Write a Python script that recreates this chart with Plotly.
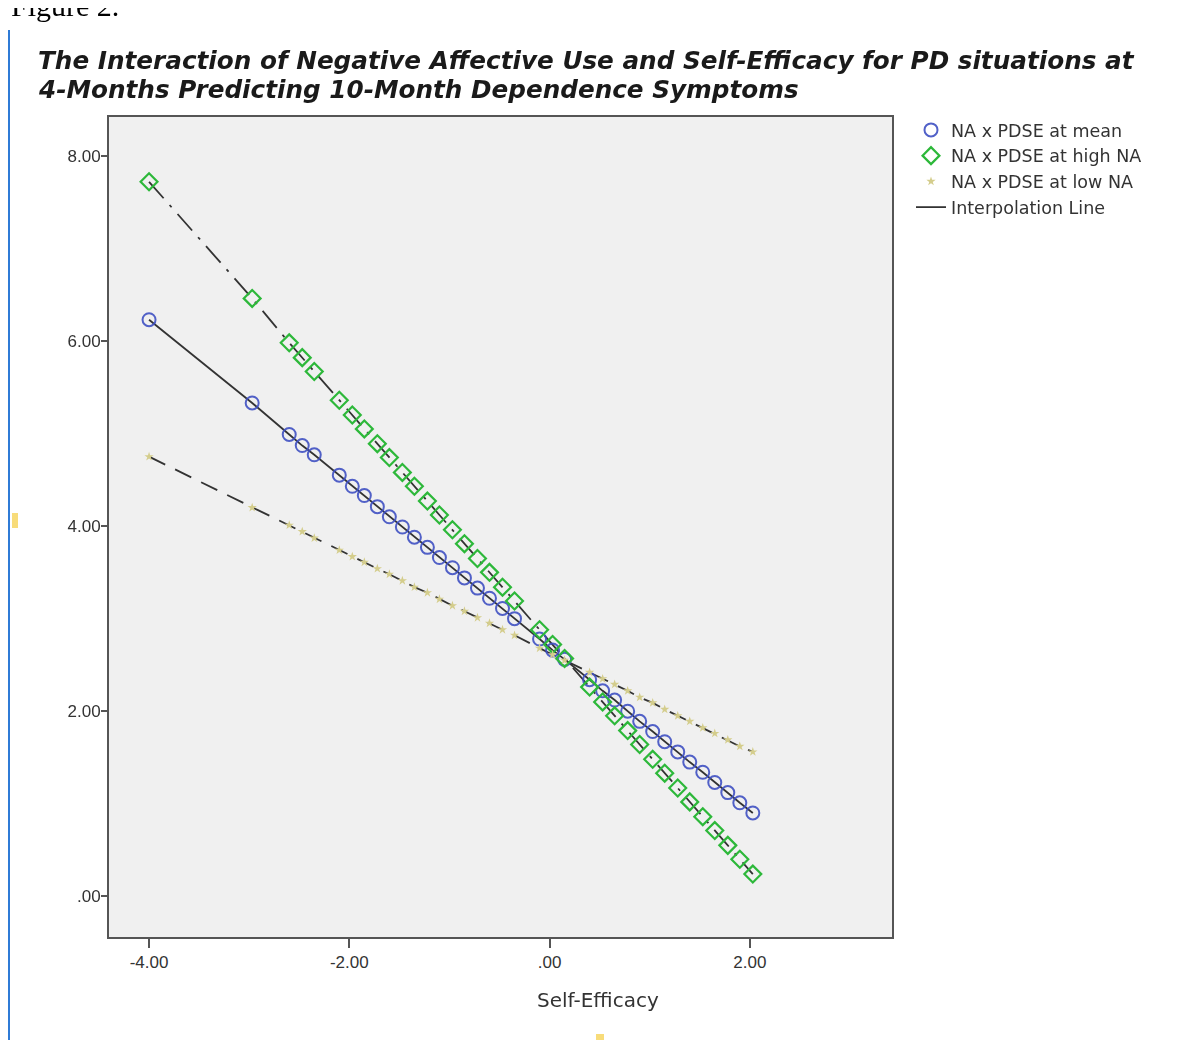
import plotly.graph_objects as go

# ---- data ----
self_efficacy = [-4.0, -2.97, -2.6, -2.47, -2.35, -2.1, -1.97, -1.85, -1.72, -1.6,
                 -1.47, -1.35, -1.22, -1.1, -0.97, -0.85, -0.72, -0.6, -0.47, -0.35,
                 -0.1, 0.03, 0.15, 0.4, 0.53, 0.65, 0.78, 0.9, 1.03, 1.15,
                 1.28, 1.4, 1.53, 1.65, 1.78, 1.9, 2.03]
na_mean = [6.23, 5.33, 4.99, 4.87, 4.77, 4.55, 4.43, 4.33, 4.21, 4.10,
           3.99, 3.88, 3.77, 3.66, 3.55, 3.44, 3.33, 3.22, 3.11, 3.00,
           2.78, 2.66, 2.56, 2.34, 2.22, 2.12, 2.00, 1.89, 1.78, 1.67,
           1.56, 1.45, 1.34, 1.23, 1.12, 1.01, 0.90]
na_high = [7.72, 6.46, 5.98, 5.82, 5.67, 5.36, 5.20, 5.05, 4.89, 4.74,
           4.58, 4.43, 4.27, 4.12, 3.96, 3.81, 3.65, 3.50, 3.34, 3.19,
           2.88, 2.72, 2.57, 2.26, 2.10, 1.95, 1.79, 1.64, 1.48, 1.33,
           1.17, 1.02, 0.86, 0.71, 0.55, 0.40, 0.24]
na_low = [4.75, 4.20, 4.01, 3.94, 3.87, 3.74, 3.67, 3.61, 3.54, 3.48,
          3.41, 3.34, 3.28, 3.21, 3.14, 3.08, 3.01, 2.95, 2.88, 2.82,
          2.68, 2.61, 2.55, 2.42, 2.35, 2.29, 2.22, 2.15, 2.09, 2.02,
          1.95, 1.89, 1.82, 1.76, 1.69, 1.62, 1.56]
x_ticks = [-4, -2, 0, 2]
x_tick_labels = ["-4.00", "-2.00", ".00", "2.00"]
y_ticks = [0, 2, 4, 6, 8]
y_tick_labels = [".00", "2.00", "4.00", "6.00", "8.00"]
series_names = ["NA x PDSE at mean", "NA x PDSE at high NA", "NA x PDSE at low NA"]
title_lines = ["The Interaction of Negative Affective Use and Self-Efficacy for PD situations at",
               "4-Months Predicting 10-Month Dependence Symptoms"]

FONT = "Liberation Sans, Arial, sans-serif"
WIDE = "DejaVu Sans, Verdana, sans-serif"
LINE_COL = "#333333"

fig = go.Figure()

# interpolation lines
fig.add_trace(go.Scatter(x=self_efficacy, y=na_high, mode="lines",
                         line=dict(color=LINE_COL, width=1.8, dash="22px,9px,3px,9px"),
                         showlegend=False, hoverinfo="skip"))
fig.add_trace(go.Scatter(x=self_efficacy, y=na_low, mode="lines",
                         line=dict(color=LINE_COL, width=1.8, dash="18px,11px"),
                         showlegend=False, hoverinfo="skip"))
fig.add_trace(go.Scatter(x=self_efficacy, y=na_mean, mode="lines",
                         line=dict(color=LINE_COL, width=1.8),
                         name="Interpolation Line", legendrank=4))

# markers
fig.add_trace(go.Scatter(x=self_efficacy, y=na_mean, mode="markers", name=series_names[0],
                         marker=dict(symbol="circle-open", size=13, color="#3f50c2",
                                     line=dict(width=2)),
                         opacity=0.9, legendrank=1))
fig.add_trace(go.Scatter(x=self_efficacy, y=na_high, mode="markers", name=series_names[1],
                         marker=dict(symbol="diamond-open", size=13, color="#2db83a",
                                     line=dict(width=2.2)),
                         legendrank=2))
fig.add_trace(go.Scatter(x=self_efficacy, y=na_low, mode="markers", name=series_names[2],
                         marker=dict(symbol="star", size=7, color="#d4cd8c"),
                         legendrank=3))

OFF = 8  # page body margin in the browser
W, H = 1180 - OFF, 1040 - OFF
L, T = 109 - OFF, 117 - OFF
PW, PH = 892 - 109, 937 - 117
R, B = W - L - PW, H - T - PH


def px(xs):  # screen x -> paper x
    return (xs - OFF - L) / PW


def py(ys):  # screen y -> paper y
    return (T + PH - (ys - OFF)) / PH


fig.update_layout(
    width=W, height=H,
    margin=dict(l=L, r=R, t=T, b=B),
    paper_bgcolor="white", plot_bgcolor="#f0f0f0",
    font=dict(family=FONT, size=17, color="#333333"),
    showlegend=True,
    legend=dict(x=px(911), y=py(112), xanchor="left", yanchor="top",
                bgcolor="rgba(0,0,0,0)", font=dict(size=17.5, color="#333333", family=WIDE),
                tracegroupgap=0, itemwidth=30),
    xaxis=dict(range=[-4.4, 3.42], tickvals=x_ticks, ticktext=x_tick_labels,
               ticks="outside", ticklen=9, tickwidth=1.8, tickcolor="#555555",
               showgrid=False, zeroline=False, showline=True, mirror=True,
               linecolor="#555555", linewidth=1.8, tickfont=dict(size=17)),
    yaxis=dict(range=[-0.44, 8.42], tickvals=y_ticks, ticktext=y_tick_labels,
               ticks="outside", ticklen=6, tickwidth=1.8, tickcolor="#555555",
               ticklabelstandoff=-3,
               showgrid=False, zeroline=False, showline=True, mirror=True,
               linecolor="#555555", linewidth=1.8, tickfont=dict(size=17)),
)

annotations = [
    dict(text="<b><i>" + title_lines[0] + "</i></b>",
         x=px(36), y=py(61), xref="paper", yref="paper", xanchor="left", yanchor="middle",
         showarrow=False, font=dict(size=24.7, color="#1a1a1a", family=WIDE)),
    dict(text="<b><i>" + title_lines[1] + "</i></b>",
         x=px(36), y=py(90), xref="paper", yref="paper", xanchor="left", yanchor="middle",
         showarrow=False, font=dict(size=24.7, color="#1a1a1a", family=WIDE)),
    dict(text="Self-Efficacy", x=px(598), y=py(1000), xref="paper", yref="paper",
         xanchor="center", yanchor="middle", showarrow=False,
         font=dict(size=20, color="#333333", family=WIDE)),
    dict(text="Figure 2.", x=px(9), y=py(5), xref="paper", yref="paper",
         xanchor="left", yanchor="middle", showarrow=False,
         font=dict(size=30, color="#000000", family="Liberation Serif, Times New Roman, serif")),
]
fig.update_layout(annotations=annotations)

shapes = [
    dict(type="line", xref="paper", yref="paper", x0=px(9), x1=px(9), y0=py(30), y1=py(1040),
         line=dict(color="#2f7bd6", width=2)),
    dict(type="rect", xref="paper", yref="paper", x0=px(12), x1=px(18), y0=py(513), y1=py(528),
         line=dict(width=0), fillcolor="#f8dc7a"),
    dict(type="rect", xref="paper", yref="paper", x0=px(1176), x1=px(1180), y0=py(513), y1=py(528),
         line=dict(width=0), fillcolor="#f8dc7a"),
    dict(type="rect", xref="paper", yref="paper", x0=px(596), x1=px(604), y0=py(1034), y1=py(1040),
         line=dict(width=0), fillcolor="#f8dc7a"),
]
fig.update_layout(shapes=shapes)

fig.write_html("out.html")
